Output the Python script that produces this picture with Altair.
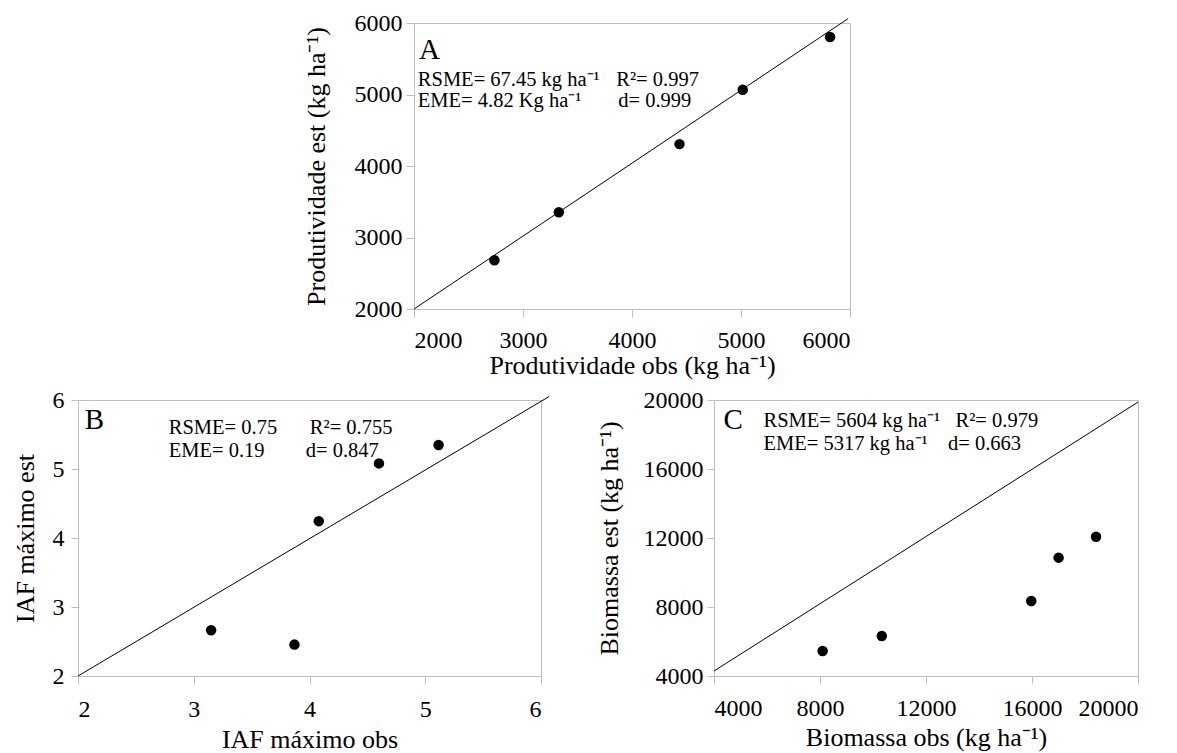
import altair as alt
import pandas as pd

FONT = "Liberation Serif"
GRAY = "#BFBFBF"

# ---------------- data ----------------
# Panel A: Produtividade
a_obs = [2738, 3329, 4436, 5016, 5817]
a_est = [2681, 3354, 4306, 5066, 5804]
a_line_obs = [2000, 5982]
a_line_est = [2000, 6061]
a_ticks = [2000, 3000, 4000, 5000, 6000]
a_stats = ["RSME= 67.45 kg ha\u207b\u00b9", "R\u00b2= 0.997", "EME= 4.82 Kg ha\u207b\u00b9", "d= 0.999"]

# Panel B: IAF maximo
b_obs = [3.15, 3.87, 4.08, 4.60, 5.115]
b_est = [2.663, 2.455, 4.244, 5.081, 5.347]
b_line_obs = [2, 6.07]
b_line_est = [2, 6.05]
b_ticks = [2, 3, 4, 5, 6]
b_stats = ["RSME= 0.75", "R\u00b2= 0.755", "EME= 0.19", "d= 0.847"]

# Panel C: Biomassa
c_obs = [8099, 10332, 15972, 17004, 18417]
c_est = [5449, 6319, 8348, 10860, 12077]
c_line_obs = [4000, 20000]
c_line_est = [4290, 19880]
c_ticks = [4000, 8000, 12000, 16000, 20000]
c_stats = ["RSME= 5604 kg ha\u207b\u00b9", "R\u00b2= 0.979", "EME= 5317 kg ha\u207b\u00b9", "d= 0.663"]

# annotation anchors (data units)
a_letter_pos = (2046, 5623)
a_stats_x = [2035, 3856, 2035, 3874]
a_stats_y = [5203, 5203, 4916, 4916]
b_letter_pos = (2.059, 5.71)
b_stats_x = [2.784, 4.003, 2.784, 3.968]
b_stats_y = [5.598, 5.598, 5.26, 5.26]
c_letter_pos = (4355, 18823)
c_stats_x = [5868, 13115, 5868, 12832]
c_stats_y = [18783, 18783, 17432, 17432]

AX = dict(labelFont=FONT, titleFont=FONT, labelFontSize=24, titleFontSize=26,
          labelColor="black", titleColor="black", titleFontWeight="normal",
          domainColor=GRAY, tickColor=GRAY, domainWidth=1, tickWidth=1, grid=False)


def panel(obs, est, lobs, lest, ticks, xtitle, ytitle, letter, letter_pos,
          stats, sx, sy, w, h, xkw, ykw):
    dom = [ticks[0], ticks[-1]]
    xs = alt.Scale(domain=dom, nice=False, zero=False)
    ys = alt.Scale(domain=dom, nice=False, zero=False)
    xaxis = alt.Axis(values=ticks, format="d", title=xtitle, **AX, **xkw)
    yaxis = alt.Axis(values=ticks, format="d", title=ytitle, **AX, **ykw)

    line = alt.Chart(pd.DataFrame({"obs": lobs, "est": lest})).mark_line(
        color="black", strokeWidth=1
    ).encode(
        x=alt.X("obs:Q", scale=xs, axis=xaxis),
        y=alt.Y("est:Q", scale=ys, axis=yaxis),
    )
    pts = alt.Chart(pd.DataFrame({"obs": obs, "est": est})).mark_circle(
        color="black", size=110, opacity=1
    ).encode(x="obs:Q", y="est:Q")
    let = alt.Chart(pd.DataFrame({"obs": [letter_pos[0]], "est": [letter_pos[1]], "t": [letter]})).mark_text(
        align="left", baseline="middle", font=FONT, fontSize=29, color="black"
    ).encode(x="obs:Q", y="est:Q", text="t:N")
    st = alt.Chart(pd.DataFrame({"obs": sx, "est": sy, "t": stats})).mark_text(
        align="left", baseline="middle", font=FONT, fontSize=20.5, color="black"
    ).encode(x="obs:Q", y="est:Q", text="t:N")
    return alt.layer(line, pts, let, st).properties(width=w, height=h)


A = panel(a_obs, a_est, a_line_obs, a_line_est, a_ticks,
          "Produtividade obs (kg ha\u207b\u00b9)", "Produtividade est (kg ha\u207b\u00b9)",
          "A", a_letter_pos, a_stats, a_stats_x, a_stats_y, 436, 286,
          dict(tickSize=8, labelPadding=11, titlePadding=0),
          dict(tickSize=8, labelPadding=4, titlePadding=25))

B = panel(b_obs, b_est, b_line_obs, b_line_est, b_ticks,
          "IAF m\u00e1ximo obs", "IAF m\u00e1ximo est",
          "B", b_letter_pos, b_stats, b_stats_x, b_stats_y, 463, 276,
          dict(tickSize=8, labelPadding=13, titlePadding=5),
          dict(tickSize=7, labelPadding=7, titlePadding=14))

C = panel(c_obs, c_est, c_line_obs, c_line_est, c_ticks,
          "Biomassa obs (kg ha\u207b\u00b9)", "Biomassa est (kg ha\u207b\u00b9)",
          "C", c_letter_pos, c_stats, c_stats_x, c_stats_y, 424, 276,
          dict(tickSize=7, labelPadding=13, titlePadding=4),
          dict(tickSize=7, labelPadding=4, titlePadding=21))

spacer = alt.Chart(pd.DataFrame({"v": [0]})).mark_point(size=1, opacity=0).encode(
    x=alt.value(10), y=alt.value(10)
).properties(width=223, height=286, view=alt.ViewBackground(stroke="transparent"))

top = alt.hconcat(spacer, A, spacing=0)
bottom = alt.hconcat(B, C, spacing=43)

chart = alt.vconcat(top, bottom, spacing=8).properties(
    padding={"left": 3, "top": 2, "right": 0, "bottom": 0}
).configure_view(
    stroke=GRAY, strokeWidth=1
)

chart.save("out.html", embed_options={"renderer": "svg", "actions": False})
